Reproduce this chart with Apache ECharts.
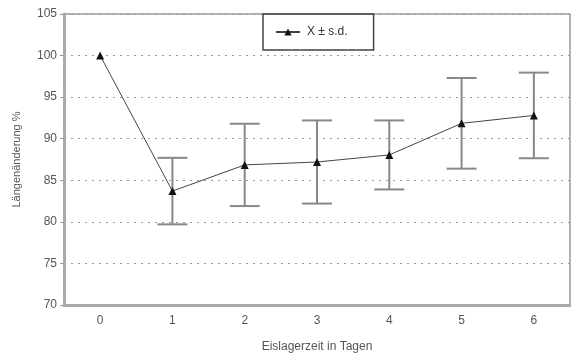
<!DOCTYPE html>
<html>
<head>
<meta charset="utf-8">
<script src="https://cdn.jsdelivr.net/npm/echarts@6/dist/echarts.min.js"></script>
<style>
html, body { margin: 0; padding: 0; background: #fff; }
#chart { width: 571px; height: 358px; }
</style>
</head>
<body>
<div id="chart"></div>
<script>
// Eislagerzeit (Tage) und Längenänderung in %
var days = ['0', '1', '2', '3', '4', '5', '6'];
var meanValues = [100, 83.7, 86.85, 87.2, 88.05, 91.85, 92.8];
var sdValues = [0, 4.0, 4.95, 5.0, 4.15, 5.45, 5.15];
var yTicks = [70, 75, 80, 85, 90, 95, 100, 105];

var errData = [];
for (var i = 0; i < days.length; i++) {
    if (sdValues[i] > 0) {
        errData.push([i, meanValues[i] - sdValues[i], meanValues[i] + sdValues[i]]);
    }
}

function renderErr(params, api) {
    var x = api.value(0);
    var lo = api.coord([x, api.value(1)]);
    var hi = api.coord([x, api.value(2)]);
    var half = 15;
    var style = { stroke: '#888', lineWidth: 2 };
    return {
        type: 'group',
        children: [
            { type: 'line', shape: { x1: lo[0], y1: lo[1], x2: hi[0], y2: hi[1] }, style: style },
            { type: 'line', shape: { x1: hi[0] - half, y1: hi[1], x2: hi[0] + half, y2: hi[1] }, style: style },
            { type: 'line', shape: { x1: lo[0] - half, y1: lo[1], x2: lo[0] + half, y2: lo[1] }, style: style }
        ]
    };
}

var chart = echarts.init(document.getElementById('chart'));

var option = {
    animation: false,
    textStyle: { fontFamily: 'Liberation Sans, Arial, sans-serif' },
    grid: {
        left: 64, right: 1, top: 14, bottom: 52,
        show: true, borderColor: '#999', borderWidth: 1.5
    },
    legend: {
        data: ['X ± s.d.'],
        left: 263, top: 14,
        padding: [12, 26, 12, 12],
        borderColor: '#444', borderWidth: 1.5,
        itemWidth: 24, itemHeight: 9, itemGap: 6,
        textStyle: { fontSize: 12, color: '#333', padding: [0, 0, 0, 2] }
    },
    xAxis: {
        type: 'category',
        data: days,
        boundaryGap: true,
        name: 'Eislagerzeit in Tagen',
        nameLocation: 'middle',
        nameGap: 36,
        nameTextStyle: { fontSize: 12, color: '#555' },
        axisLine: { lineStyle: { color: '#aaa', width: 3 } },
        axisTick: { show: false },
        axisLabel: { color: '#555', fontSize: 12, margin: 10 }
    },
    yAxis: {
        type: 'value',
        min: yTicks[0],
        max: yTicks[yTicks.length - 1],
        interval: 5,
        name: 'Längenänderung %',
        nameLocation: 'middle',
        nameGap: 42,
        nameTextStyle: { fontSize: 11, color: '#555' },
        axisLine: { show: true, lineStyle: { color: '#aaa', width: 3 } },
        axisTick: { show: true, length: 4, lineStyle: { color: '#999' } },
        axisLabel: { color: '#555', fontSize: 12, margin: 7 },
        splitLine: { lineStyle: { color: '#999', type: [2, 5], width: 1 } }
    },
    series: [{
        type: 'custom',
        name: 'sd',
        data: errData,
        renderItem: renderErr,
        z: 2,
        silent: true
    }, {
        type: 'line',
        name: 'X ± s.d.',
        data: meanValues,
        symbol: 'triangle',
        symbolSize: 8,
        itemStyle: { color: '#111' },
        lineStyle: { color: '#444', width: 1 },
        z: 3
    }]
};

chart.setOption(option);
</script>
</body>
</html>
